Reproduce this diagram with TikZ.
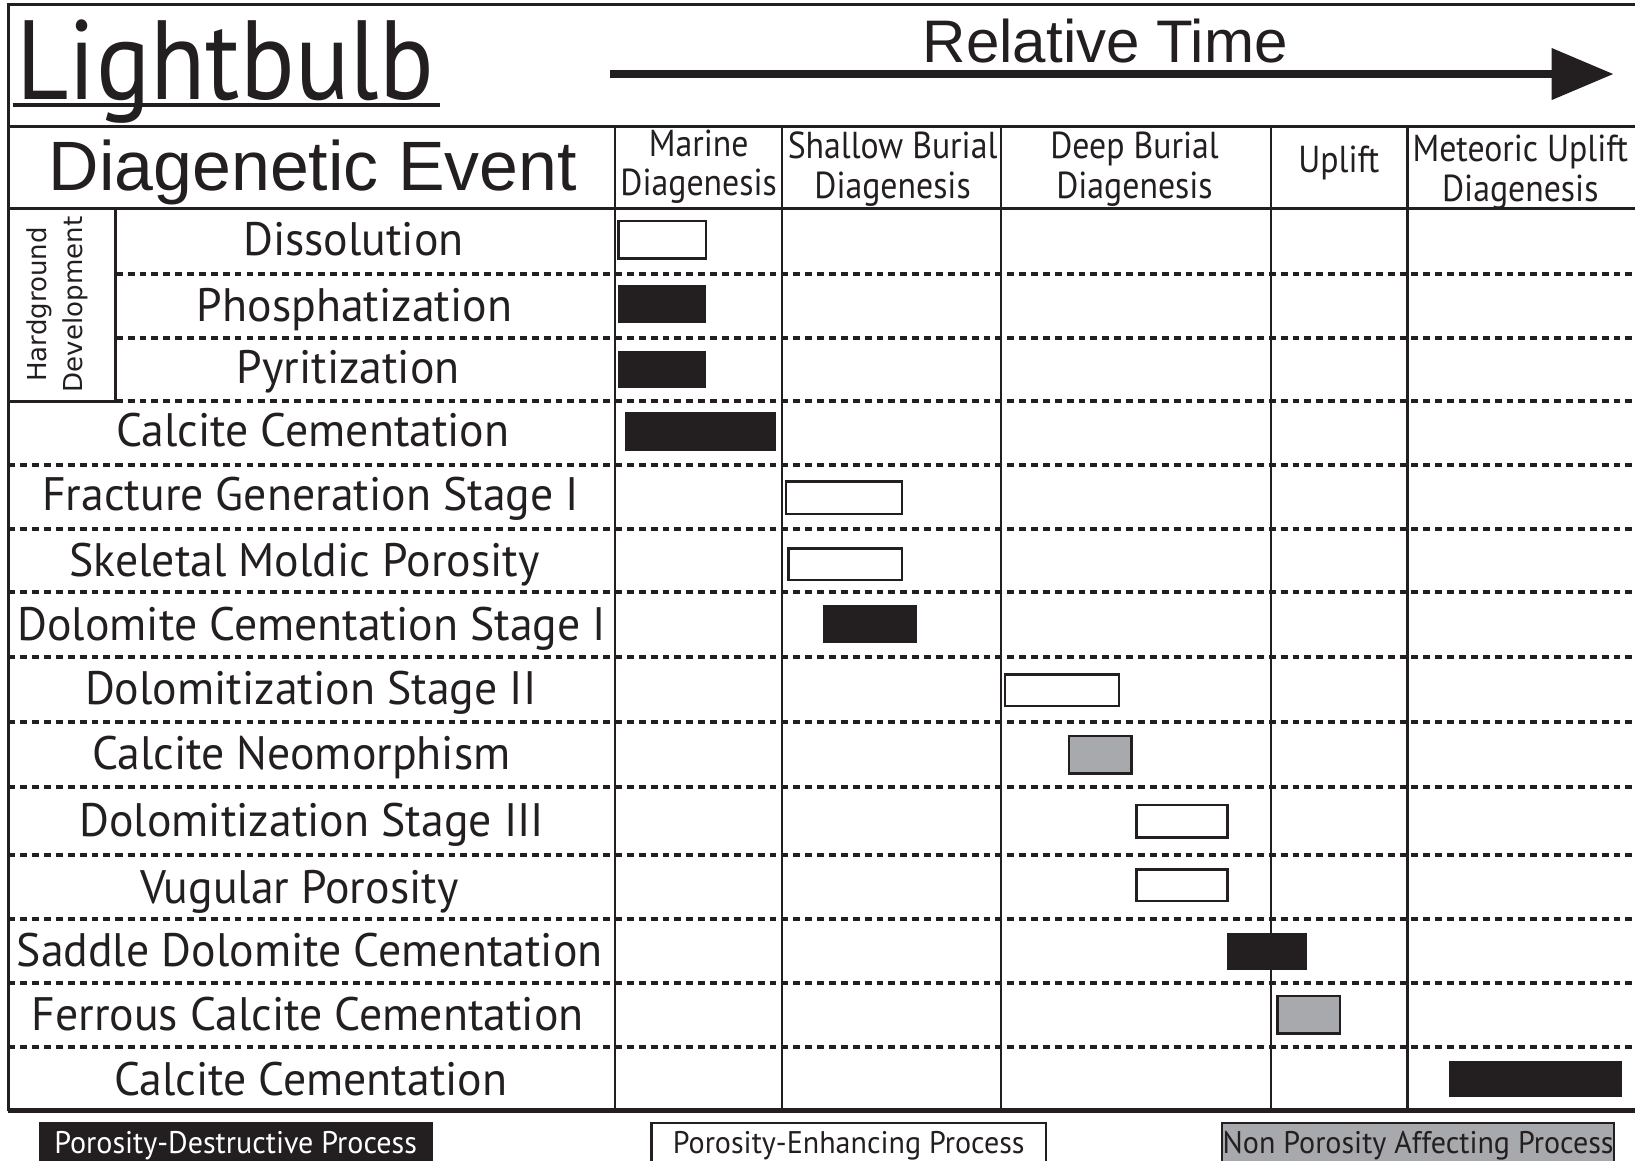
\documentclass[tikz,border=0pt]{standalone}
\usepackage{fontspec}
\setmainfont{PT Sans}
\newfontfamily\arialf{Liberation Sans}
\newfontfamily\dejavu{DejaVu Sans}
\newfontfamily\evfont[FakeStretch=0.975]{PT Sans}
\newfontfamily\hdfont[FakeStretch=0.9]{PT Sans}
\newfontfamily\titlefont[FakeStretch=0.9]{PT Sans}
\newfontfamily\condf[FakeStretch=0.96]{PT Sans}
\definecolor{ink}{HTML}{231F20}
\definecolor{midgray}{HTML}{A7A9AC}
\begin{document}
\begin{tikzpicture}[x=0.5pt,y=-0.5pt,
  frame/.style={draw=ink,line width=1.5pt},
  colline/.style={draw=ink,line width=1.2pt},
  rowline/.style={draw=ink,line width=1.9pt,dash pattern=on 3.3pt off 2.4pt},
  blackbar/.style={fill=ink,draw=ink,line width=0.5pt},
  whitebar/.style={fill=white,draw=ink,line width=1.2pt},
  graybar/.style={fill=midgray,draw=ink,line width=1.2pt},
  evtext/.style={anchor=base,inner sep=0pt,font=\evfont\fontsize{22.5pt}{24pt}\selectfont,text=ink},
  hdtext/.style={anchor=center,inner sep=0pt,align=center,font=\hdfont\fontsize{18pt}{19pt}\selectfont,text=ink},
  legtext/.style={anchor=base,inner sep=0pt,font=\condf\fontsize{15pt}{16pt}\selectfont}
]
\useasboundingbox (0,0) rectangle (1568,1113);
\clip (0,0) rectangle (1568,1113);
\fill[white] (0,0) rectangle (1568,1113);

% frame
\draw[frame] (1600,4) -- (8,4) -- (8,1065);
\draw[frame] (8,121) -- (1600,121);
\draw[frame] (8,200) -- (1600,200);
\draw[draw=ink,line width=2pt] (8,1065) -- (1600,1065);

% hardground box
\draw[frame] (8,385) -- (111,385) -- (111,200);

% dashed row lines
\foreach \y in {263,324,385,446,507,568,630,692,755,820,881,943,1004}{\draw[rowline] (111,\y) -- (1600,\y);}
\foreach \y in {446,507,568,630,692,755,820,881,943,1004}{\draw[rowline] (8,\y) -- (111,\y);}

% bars
\draw[whitebar] (593,212) rectangle (677,248);
\draw[blackbar] (593,274) rectangle (677,309);
\draw[blackbar] (593,337) rectangle (677,372);
\draw[blackbar] (600,396) rectangle (744,432);
\draw[whitebar] (754,462) rectangle (865,493);
\draw[whitebar] (756,526) rectangle (865,556);
\draw[blackbar] (790,581) rectangle (879,616);
\draw[whitebar] (964,647) rectangle (1073,677);
\draw[graybar] (1025,706) rectangle (1085,742);
\draw[whitebar] (1090,772) rectangle (1177,803);
\draw[whitebar] (1090,834) rectangle (1177,864);
\draw[blackbar] (1177,895) rectangle (1253,930);
\draw[graybar] (1225,955) rectangle (1285,991);
\draw[blackbar] (1390,1018) rectangle (1555,1052);

% column lines
\foreach \x in {590,750,960,1219,1350}{\draw[colline] (\x,121) -- (\x,1065);}

% title
\node[anchor=base,inner sep=0pt,font=\titlefont\fontsize{54pt}{56pt}\selectfont,text=ink] (title) at (216,95) {Lightbulb};
\draw[draw=ink,line width=2pt] (12,101) -- (422,101);
\node[anchor=base,inner sep=0pt,font=\arialf\fontsize{28.8pt}{30pt}\selectfont,text=ink] (reltime) at (1060,60) {Relative Time};
\coordinate (arrowstart) at (585,71);
\coordinate (arrowend) at (1492,71);
\draw[draw=ink,line width=3.6pt] (arrowstart) -- (arrowend);
\fill[ink] (1488,46) -- (1547,71) -- (1488,96) -- cycle;

% header
\node[anchor=base,inner sep=0pt,font=\arialf\fontsize{33.5pt}{35pt}\selectfont,text=ink] (diagev) at (300,183) {Diagenetic Event};
\node[hdtext] (h1) at (670,160) {Marine\\Diagenesis};
\node[hdtext] (h2) at (856,162) {Shallow Burial\\Diagenesis};
\node[hdtext] (h3) at (1088,162) {Deep Burial\\Diagenesis};
\node[hdtext] (h4) at (1284,156) {Uplift};
\node[hdtext] (h5) at (1458,165) {Meteoric Uplift\\Diagenesis};

% hardground label
\node[rotate=90,inner sep=0pt,align=center,font=\dejavu\fontsize{12.5pt}{17pt}\selectfont,text=ink] (hard) at (55,292) {Hardground\\Development};

% event labels
\node[evtext] (e1) at (339,245) {Dissolution};
\node[evtext] (e2) at (340,308) {Phosphatization};
\node[evtext] (e3) at (334,368) {Pyritization};
\node[evtext] (e4) at (300,428) {Calcite Cementation};
\node[evtext] (e5) at (298,490) {Fracture Generation Stage I};
\node[evtext] (e6) at (292,553) {Skeletal Moldic Porosity};
\node[evtext] (e7) at (299,614) {Dolomite Cementation Stage I};
\node[evtext] (e8) at (298,676) {Dolomitization Stage II};
\node[evtext] (e9) at (289,738) {Calcite Neomorphism};
\node[evtext] (e10) at (299,802) {Dolomitization Stage III};
\node[evtext] (e11) at (287,866) {Vugular Porosity};
\node[evtext] (e12) at (297,927) {Saddle Dolomite Cementation};
\node[evtext] (e13) at (295,988) {Ferrous Calcite Cementation};
\node[evtext] (e14) at (298,1051) {Calcite Cementation};

% legend
\fill[ink] (37,1076) rectangle (415,1130);
\node[legtext,text=white] (l1) at (226,1106) {Porosity-Destructive Process};
\draw[fill=white,draw=ink,line width=1.2pt] (625,1077) rectangle (1003,1130);
\node[legtext,text=ink] (l2) at (814,1106) {Porosity-Enhancing Process};
\draw[fill=midgray,draw=ink,line width=1.2pt] (1172,1077) rectangle (1548,1130);
\node[legtext,text=ink] (l3) at (1360,1106) {Non Porosity Affecting Process};
\end{tikzpicture}
\end{document}
